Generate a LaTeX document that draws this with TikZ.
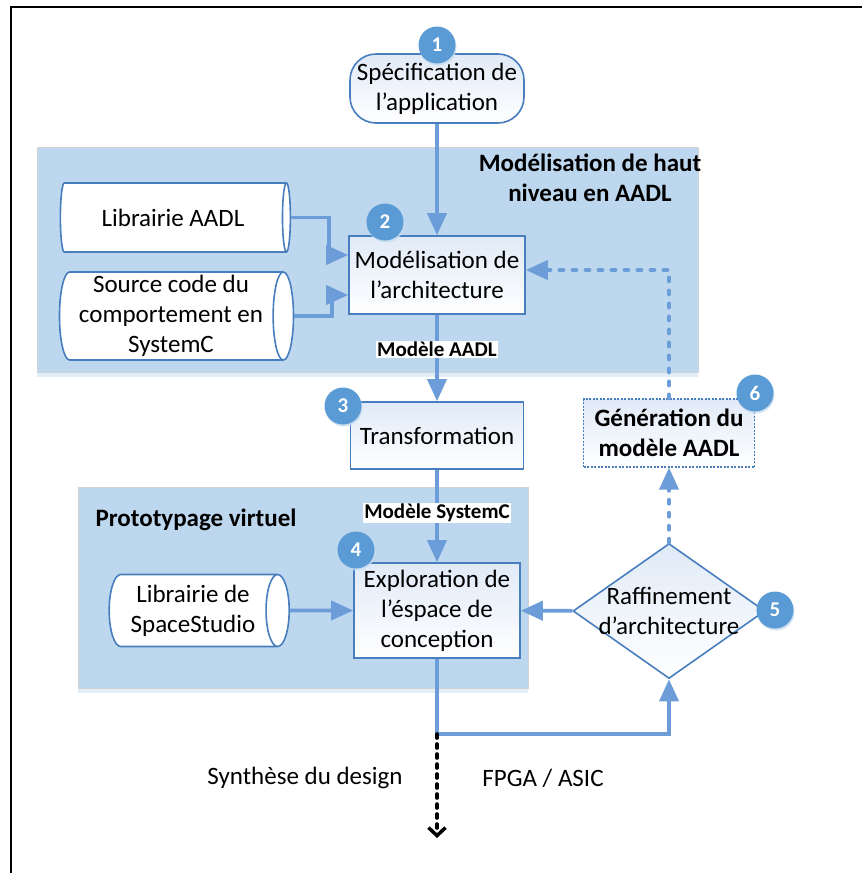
\documentclass[tikz,border=0pt]{standalone}
\usepackage{fontspec}
\setmainfont{Carlito}
\usetikzlibrary{arrows.meta,shapes.geometric,shadows}
\definecolor{fondzone}{RGB}{189,215,238}
\definecolor{bordboite}{RGB}{72,126,189}
\definecolor{hautboite}{RGB}{224,234,247}
\definecolor{bleutrait}{RGB}{108,157,217}
\definecolor{bleunum}{RGB}{91,155,213}
\newcommand{\texte}{\fontsize{25}{30}\selectfont}
\newcommand{\etiq}{\bfseries\fontsize{21}{24}\selectfont}

\begin{document}
\begin{tikzpicture}[x=1pt,y=-1pt]
		\tikzstyle{zone}=[fill=fondzone,draw=gray!35,line width=0.8pt,anchor=north west,inner sep=0pt,drop shadow={shadow xshift=0pt,shadow yshift=-5pt,fill=fondzone!45,opacity=1}]
		\tikzstyle{boite}=[rectangle,draw=bordboite,line width=1.6pt,top color=hautboite,bottom color=white,align=center,inner sep=0pt,font=\texte]
		\tikzstyle{terminal}=[boite,rounded corners=26pt]
		\tikzstyle{biblio}=[cylinder,draw=bordboite,line width=1.6pt,cylinder uses custom fill,cylinder body fill=white,cylinder end fill=white,aspect=0.45,align=center,inner sep=0pt,font=\texte]
		\tikzstyle{losange}=[diamond,draw=bordboite,line width=1.6pt,top color=hautboite,bottom color=white,inner sep=0pt,minimum width=192pt,minimum height=135pt]
		\tikzstyle{numero}=[circle,fill=bleunum,text=white,minimum size=37pt,inner sep=0pt,font=\bfseries\fontsize{21}{21}\selectfont,drop shadow={shadow xshift=1pt,shadow yshift=-2pt,fill=bleunum!35,opacity=0.8}]
		\tikzstyle{titre}=[font=\bfseries\texte,align=center]
		\tikzstyle{fleche}=[-{Triangle[length=22pt,width=19pt]},line width=3.8pt,draw=bleutrait]
		\tikzstyle{pointille}=[fleche,dash pattern=on 4pt off 9pt,line cap=round]
		\tikzstyle{noire}=[-{Straight Barb[length=8pt,width=17pt,line width=3.5pt]},line width=3.6pt,dash pattern=on 4pt off 6pt,line cap=round]
		\tikzstyle{modele}=[fill=white,inner sep=1pt,font=\etiq]
		
		\useasboundingbox (0,0) rectangle (862,873);
		\draw[line width=2.2pt] (862,7) -- (11,7) -- (11,873);
		
		\node[zone,minimum width=661pt,minimum height=225pt] (zoneA) at (37,147) {};
		\node[zone,minimum width=450pt,minimum height=201pt] (zoneB) at (78,487) {};
		\node[titre] (titreA) at (590,178) {Modélisation de haut\\niveau en AADL};
		\node[titre,anchor=west] (titreB) at (92,520) {Prototypage virtuel};
		
		\node[terminal,minimum width=174pt,minimum height=69pt] (spec) at (437,88.5) {Spécification de\\l’application};
		\node[biblio,minimum height=230pt,minimum width=69pt] (libA) at (173,217.5) {Librairie AADL};
		\node[biblio,aspect=0.25,minimum height=234pt,minimum width=88pt] (src) at (171,316) {Source code du\\comportement en\\SystemC};
		\node[boite,minimum width=176pt,minimum height=78pt] (archi) at (437,275) {Modélisation de\\l’architecture};
		\node[boite,minimum width=173pt,minimum height=67pt] (transf) at (437,435.5) {Transformation};
		\node[boite,minimum width=166pt,minimum height=95pt] (explo) at (437,610.5) {Exploration de\\l’éspace de\\conception};
		\node[biblio,minimum height=180pt,minimum width=72pt] (libS) at (193,610.5) {Librairie de\\SpaceStudio};
		\node[losange,label={[align=center,font=\texte]center:Raffinement\\d’architecture}] (raff) at (669,611) {};
		\node[boite,dash pattern=on 2pt off 1.5pt,line width=1.2pt,font=\bfseries\texte,minimum width=171pt,minimum height=68pt] (gen) at (669,433) {Génération du\\modèle AADL};
		
		\coordinate (coude) at (437,734);
		\coordinate (fin) at (437,838);
		
		\draw[fleche] (spec) -- (archi);
		\draw[fleche] (libA.east) -- ++(38,0) |- ([yshift=20pt]archi.west);
		\draw[fleche] (src.east) -- ++(38,0) |- ([yshift=-20pt]archi.west);
		\draw[fleche] (archi) -- (transf) node[modele,pos=0.4] {Modèle AADL};
		\draw[fleche] (transf) -- (explo) node[modele,pos=0.47] {Modèle SystemC};
		\draw[fleche] (libS) -- (explo);
		\draw[fleche] (raff) -- (explo);
		\draw[fleche] (explo) -- (coude) -| (raff);
		\draw[pointille] (raff) -- (gen);
		\draw[pointille] (gen) |- ([yshift=5pt]archi.east);
		\draw[noire] (coude) -- (fin);
		
		\node[font=\texte] (synth) at (305,778) {Synthèse du design};
		\node[font=\texte] (cible) at (543,778) {FPGA / ASIC};
		
		\node[numero] (n1) at (437,45) {1};
		\node[numero] (n2) at (385,222) {2};
		\node[numero] (n3) at (343,406) {3};
		\node[numero] (n4) at (356,550) {4};
		\node[numero] (n5) at (775,610) {5};
		\node[numero] (n6) at (755,393) {6};
		\end{tikzpicture}
\end{document}
